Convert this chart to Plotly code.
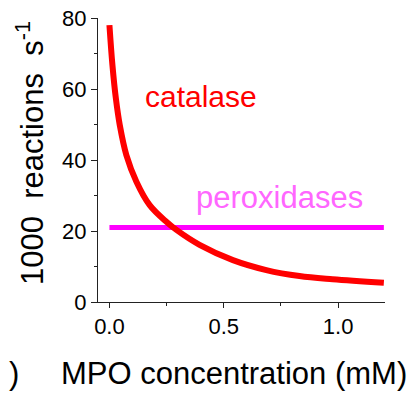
import plotly.graph_objects as go

# Data
catalase_x = [0, 0.013, 0.028, 0.045, 0.074, 0.118, 0.176, 0.249, 0.293, 0.394, 0.540, 0.686, 0.831, 0.976, 1.2]
catalase_y = [78.0, 66.8, 57.4, 49.9, 41.4, 33.9, 27.3, 22.6, 20.3, 16.1, 11.8, 9.0, 7.3, 6.4, 5.4]
perox_x = [0, 1.2]
perox_y = [21, 21]

x_ticks = [0.0, 0.5, 1.0]
x_ticklabels = ["0.0", "0.5", "1.0"]
y_ticks = [0, 20, 40, 60, 80]

FONT = "Liberation Sans, Arial, sans-serif"
AXC = "#222222"

fig = go.Figure()
fig.add_trace(go.Scatter(x=perox_x, y=perox_y, mode="lines",
                         line=dict(color="#ff00ff", width=5), showlegend=False))
fig.add_trace(go.Scatter(x=catalase_x, y=catalase_y, mode="lines",
                         line=dict(color="#ff0000", width=6, shape="spline", smoothing=1.0),
                         showlegend=False))

fig.update_layout(
    width=416, height=398,
    margin=dict(l=98, r=31, t=18, b=96),
    paper_bgcolor="white", plot_bgcolor="white",
    font=dict(family=FONT, color="black"),
    xaxis=dict(range=[-0.05, 1.205], tickvals=x_ticks, ticktext=x_ticklabels,
               automargin=False,
               showline=True, linecolor=AXC, linewidth=1, ticks="outside", ticklen=5,
               tickcolor=AXC, showgrid=False, zeroline=False,
               tickfont=dict(size=22, family=FONT),
               minor=dict(tickvals=[0.25, 0.75], ticks="outside", ticklen=3, tickcolor=AXC)),
    yaxis=dict(range=[0, 80], tickvals=y_ticks, automargin=False,
               showline=True, linecolor=AXC, linewidth=1, ticks="outside", ticklen=6,
               tickcolor=AXC, showgrid=False, zeroline=False,
               tickfont=dict(size=22, family=FONT),
               minor=dict(tickvals=[10, 30, 50, 70], ticks="outside", ticklen=3, tickcolor=AXC)),
)

fig.add_annotation(x=0.40, y=57.9, text="catalase", showarrow=False,
                   xanchor="center", yanchor="middle",
                   font=dict(size=30, color="#ff0000", family=FONT))
fig.add_annotation(x=0.744, y=29.4, text="peroxidases", showarrow=False,
                   xanchor="center", yanchor="middle",
                   font=dict(size=31, color="#ff66ff", family=FONT))

def px_x(p):
    return (p - 98) / (416 - 98 - 31)

def px_y(p):
    return (398 - 96 - p) / (398 - 96 - 18)

fig.add_annotation(xref="paper", yref="paper", x=px_x(30), y=px_y(153),
                   xanchor="center", yanchor="middle",
                   text="1000  reactions  s<sup>-1</sup>", textangle=-90, showarrow=False,
                   font=dict(size=31, family=FONT, color="black"))
fig.add_annotation(xref="paper", yref="paper", x=px_x(233.5), y=px_y(373),
                   xanchor="center", yanchor="middle",
                   text="MPO concentration (mM)", showarrow=False,
                   font=dict(size=31, family=FONT, color="black"))
fig.add_annotation(xref="paper", yref="paper", x=px_x(14), y=px_y(373),
                   xanchor="center", yanchor="middle",
                   text=")", showarrow=False,
                   font=dict(size=31, family=FONT, color="black"))

fig.write_html("out.html", config={"displayModeBar": False},
               post_script="document.body.style.margin='0';document.body.style.overflow='hidden';")
